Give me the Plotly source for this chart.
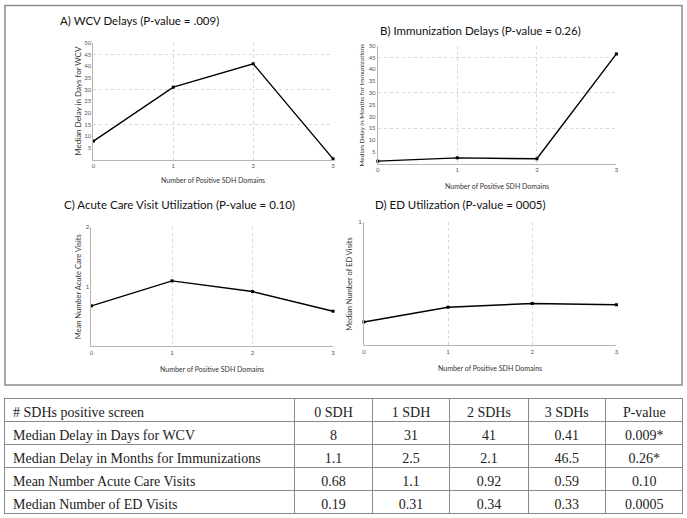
import plotly.graph_objects as go

W, H = 687, 518

# ---------------- data ----------------
sdh_counts = [0, 1, 2, 3]
wcv_delay_days = [8, 31, 41, 0.41]
imm_delay_months = [1.1, 2.5, 2.1, 46.5]
acute_care_visits = [0.68, 1.1, 0.92, 0.59]
ed_visits = [0.19, 0.31, 0.34, 0.33]
p_values = ["0.009*", "0.26*", "0.10", "0.0005"]

panel_titles = [
    "A) WCV Delays (P-value = .009)",
    "B) Immunization Delays (P-value = 0.26)",
    "C) Acute Care Visit Utilization (P-value = 0.10)",
    "D) ED Utilization (P-value = 0005)",
]
y_titles = [
    "Median Delay in Days for WCV",
    "Median Delay in Months for Immunizations",
    "Mean Number Acute Care Visits",
    "Median Number of ED Visits",
]
x_title = "Number of Positive SDH Domains"
x_ticks = [0, 1, 2, 3]
delay_yticks = [5, 10, 15, 20, 25, 30, 35, 40, 45, 50]
delay_grid = [15, 30, 45]
acute_yticks = [1, 2]
ed_yticks = [1]

table_header = ["# SDHs positive screen", "0 SDH", "1 SDH", "2 SDHs", "3 SDHs", "P-value"]
row_labels = [
    "Median Delay in Days for WCV",
    "Median Delay in Months for Immunizations",
    "Mean Number Acute Care Visits",
    "Median Number of ED Visits",
]

# ---------------- helpers ----------------
def px_x(p):
    return p / W

def px_y(p):
    return 1 - p / H

SANS = "Lato"
GRID = "#d8d8d8"
AXLINE = "#b5b5b5"
TICKC = "#555"

# panel boxes in pixels: (x0, x1, ytop, ybottom)
boxes = [
    (92, 333, 39, 157),
    (378, 618, 42, 161),
    (90, 333, 225, 345),
    (364, 618, 220, 344),
]
series = [wcv_delay_days, imm_delay_months, acute_care_visits, ed_visits]
yranges = [[0, 50], [0, 50], [0, 2], [0, 1]]
ytickvals = [delay_yticks, delay_yticks, acute_yticks, ed_yticks]

fig = go.Figure()

for i, (vals, box) in enumerate(zip(series, boxes)):
    n = i + 1
    fig.add_trace(go.Scatter(
        x=sdh_counts, y=vals, mode="lines+markers",
        line=dict(color="black", width=1.4),
        marker=dict(symbol="square", size=3, color="black"),
        xaxis="x" if n == 1 else f"x{n}", yaxis="y" if n == 1 else f"y{n}",
        showlegend=False, cliponaxis=False, hoverinfo="x+y",
    ))

# invisible traces for overlay grid axes (A, B)
fig.add_trace(go.Scatter(x=[None], y=[None], xaxis="x", yaxis="y5", showlegend=False, hoverinfo="skip"))
fig.add_trace(go.Scatter(x=[None], y=[None], xaxis="x2", yaxis="y6", showlegend=False, hoverinfo="skip"))

layout = dict(
    width=W, height=H, margin=dict(l=0, r=0, t=0, b=0),
    paper_bgcolor="white", plot_bgcolor="white",
    font=dict(family=SANS, color="#333"),
)

for i, box in enumerate(boxes):
    n = i + 1
    x0, x1, yt, yb = box
    xa = "xaxis" if n == 1 else f"xaxis{n}"
    ya = "yaxis" if n == 1 else f"yaxis{n}"
    layout[xa] = dict(
        domain=[px_x(x0), px_x(x1)], anchor="y" if n == 1 else f"y{n}",
        range=[0, 3], tickvals=x_ticks, showgrid=True, gridcolor=GRID, griddash="dot",
        gridwidth=1, zeroline=False, showline=True, linecolor=AXLINE, linewidth=1,
        ticks="", tickfont=dict(size=6, color=TICKC), fixedrange=True,
    )
    layout[ya] = dict(
        domain=[px_y(yb), px_y(yt)], anchor="x" if n == 1 else f"x{n}",
        range=yranges[i], tickvals=ytickvals[i], showgrid=False, zeroline=False,
        showline=True, linecolor=AXLINE, linewidth=1, ticks="",
        tickfont=dict(size=6, color=TICKC), fixedrange=True,
    )

for name, base in (("yaxis5", "y"), ("yaxis6", "y2")):
    layout[name] = dict(
        overlaying=base, range=[0, 50], tickvals=delay_grid, showticklabels=False,
        showgrid=True, gridcolor=GRID, griddash="dot", gridwidth=1,
        zeroline=False, showline=False, ticks="", fixedrange=True,
    )

fig.update_layout(**layout)

# --------------- annotations -------------
title_pos = [(56, 17), (378, 27), (60, 202), (373, 202)]
for t, (tx, ty) in zip(panel_titles, title_pos):
    fig.add_annotation(text=t, x=px_x(tx), y=px_y(ty), xref="paper", yref="paper",
                       xanchor="left", yanchor="middle", showarrow=False,
                       font=dict(family=SANS, size=11.5, color="#111"))

xtitle_y = [177, 183, 368, 367]
ytitle_x = [77, 362, 77, 350]
ytitle_size = [8, 6.5, 7.5, 7.5]
for i, box in enumerate(boxes):
    x0, x1, yt, yb = box
    fig.add_annotation(text=x_title, x=px_x((x0 + x1) / 2), y=px_y(xtitle_y[i]),
                       xref="paper", yref="paper", xanchor="center", yanchor="middle",
                       showarrow=False, font=dict(family=SANS, size=7, color="#333"))
    fig.add_annotation(text=y_titles[i], x=px_x(ytitle_x[i]), y=px_y((yt + yb) / 2),
                       xref="paper", yref="paper", xanchor="center", yanchor="middle",
                       textangle=-90, showarrow=False,
                       font=dict(family=SANS, size=ytitle_size[i], color="#333"))

# outer border of the chart panel
fig.add_shape(type="rect", xref="paper", yref="paper",
              x0=px_x(3), x1=px_x(684), y0=px_y(384), y1=px_y(1.5),
              line=dict(color="#8c8c8c", width=1.5), fillcolor="rgba(0,0,0,0)")

# ---------------- table ----------------
def fmt(v):
    return str(v)

columns = [
    row_labels,
    [fmt(s[0]) for s in series],
    [fmt(s[1]) for s in series],
    [fmt(s[2]) for s in series],
    [fmt(s[3]) for s in series],
    p_values,
]
SERIF = "Liberation Serif"
fig.add_trace(go.Table(
    domain=dict(x=[px_x(3), px_x(685)], y=[0, px_y(398)]),
    columnwidth=[292, 78, 78, 79, 78, 78],
    header=dict(values=table_header, height=23, fill_color="white",
                line=dict(color="#8a8a8a", width=1),
                align=["left"] + ["center"] * 5,
                font=dict(family=SERIF, size=14, color="#222")),
    cells=dict(values=columns, height=23, fill_color="white",
               line=dict(color="#8a8a8a", width=1),
               align=["left"] + ["center"] * 5,
               font=dict(family=SERIF, size=14, color="#222")),
))

fig.write_html(
    "out.html",
    config={"displayModeBar": False},
    post_script="document.body.style.margin='0';document.body.style.overflow='hidden';",
)
